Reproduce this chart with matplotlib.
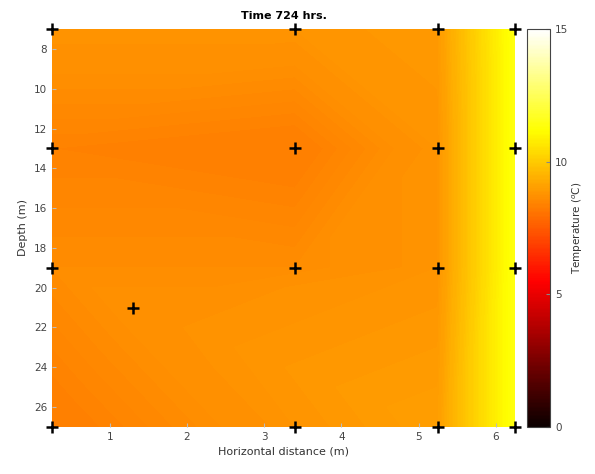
import numpy as np
import matplotlib.pyplot as plt
import matplotlib.tri as mtri

# sensor positions (horizontal distance m, depth m) and temperatures (deg C)
sensor_x = [0.25, 3.4, 5.25, 6.25,
            0.25, 3.4, 5.25, 6.25,
            0.25, 3.4, 5.25, 6.25,
            1.3,
            0.25, 3.4, 5.25, 6.25]
sensor_depth = [7, 7, 7, 7,
                13, 13, 13, 13,
                19, 19, 19, 19,
                21,
                27, 27, 27, 27]
sensor_temp = [8.8, 8.8, 8.9, 11.4,
               8.4, 8.3, 8.8, 11.4,
               8.6, 8.6, 8.8, 11.4,
               8.7,
               8.3, 8.8, 9.0, 11.4]

x_ticks = [1, 2, 3, 4, 5, 6]
depth_ticks = [8, 10, 12, 14, 16, 18, 20, 22, 24, 26]
cbar_ticks = [0, 5, 10, 15]

fig = plt.figure(figsize=(5.95, 4.74), dpi=100)
ax = fig.add_axes([0.0874, 0.0992, 0.7781, 0.8396])
cax = fig.add_axes([0.8857, 0.0992, 0.0387, 0.8396])

tri = mtri.Triangulation(sensor_x, sensor_depth)
levels = np.linspace(0, 15, 301)
cf = ax.tricontourf(tri, sensor_temp, levels=levels, cmap='hot',
                    vmin=0, vmax=15)

ax.plot(sensor_x, sensor_depth, '+', color='black', markersize=9,
        markeredgewidth=1.8, clip_on=False, zorder=5)

ax.set_xlim(0.25, 6.25)
ax.set_ylim(27, 7)
ax.set_xticks(x_ticks)
ax.set_yticks(depth_ticks)
ax.tick_params(direction='in', length=3, labelsize=7.5,
               labelcolor='#444444', color='#bbbbbb')
for s in ax.spines.values():
    s.set_visible(False)

ax.set_title('Time 724 hrs.', fontsize=8, fontweight='bold', pad=7)
ax.set_xlabel('Horizontal distance (m)', fontsize=8, color='#333333',
              labelpad=3)
ax.set_ylabel('Depth (m)', fontsize=8, color='#333333', labelpad=4)

cb = fig.colorbar(cf, cax=cax, ticks=cbar_ticks)
cb.set_label('Temperature ($^o$C)', fontsize=7.5, color='#333333',
             labelpad=2)
cb.ax.tick_params(labelsize=7.5, labelcolor='#444444', length=3,
                  direction='in', color='#888888')
cb.outline.set_edgecolor('#444444')
cb.outline.set_linewidth(0.8)

fig.savefig('out.png', dpi=100)
